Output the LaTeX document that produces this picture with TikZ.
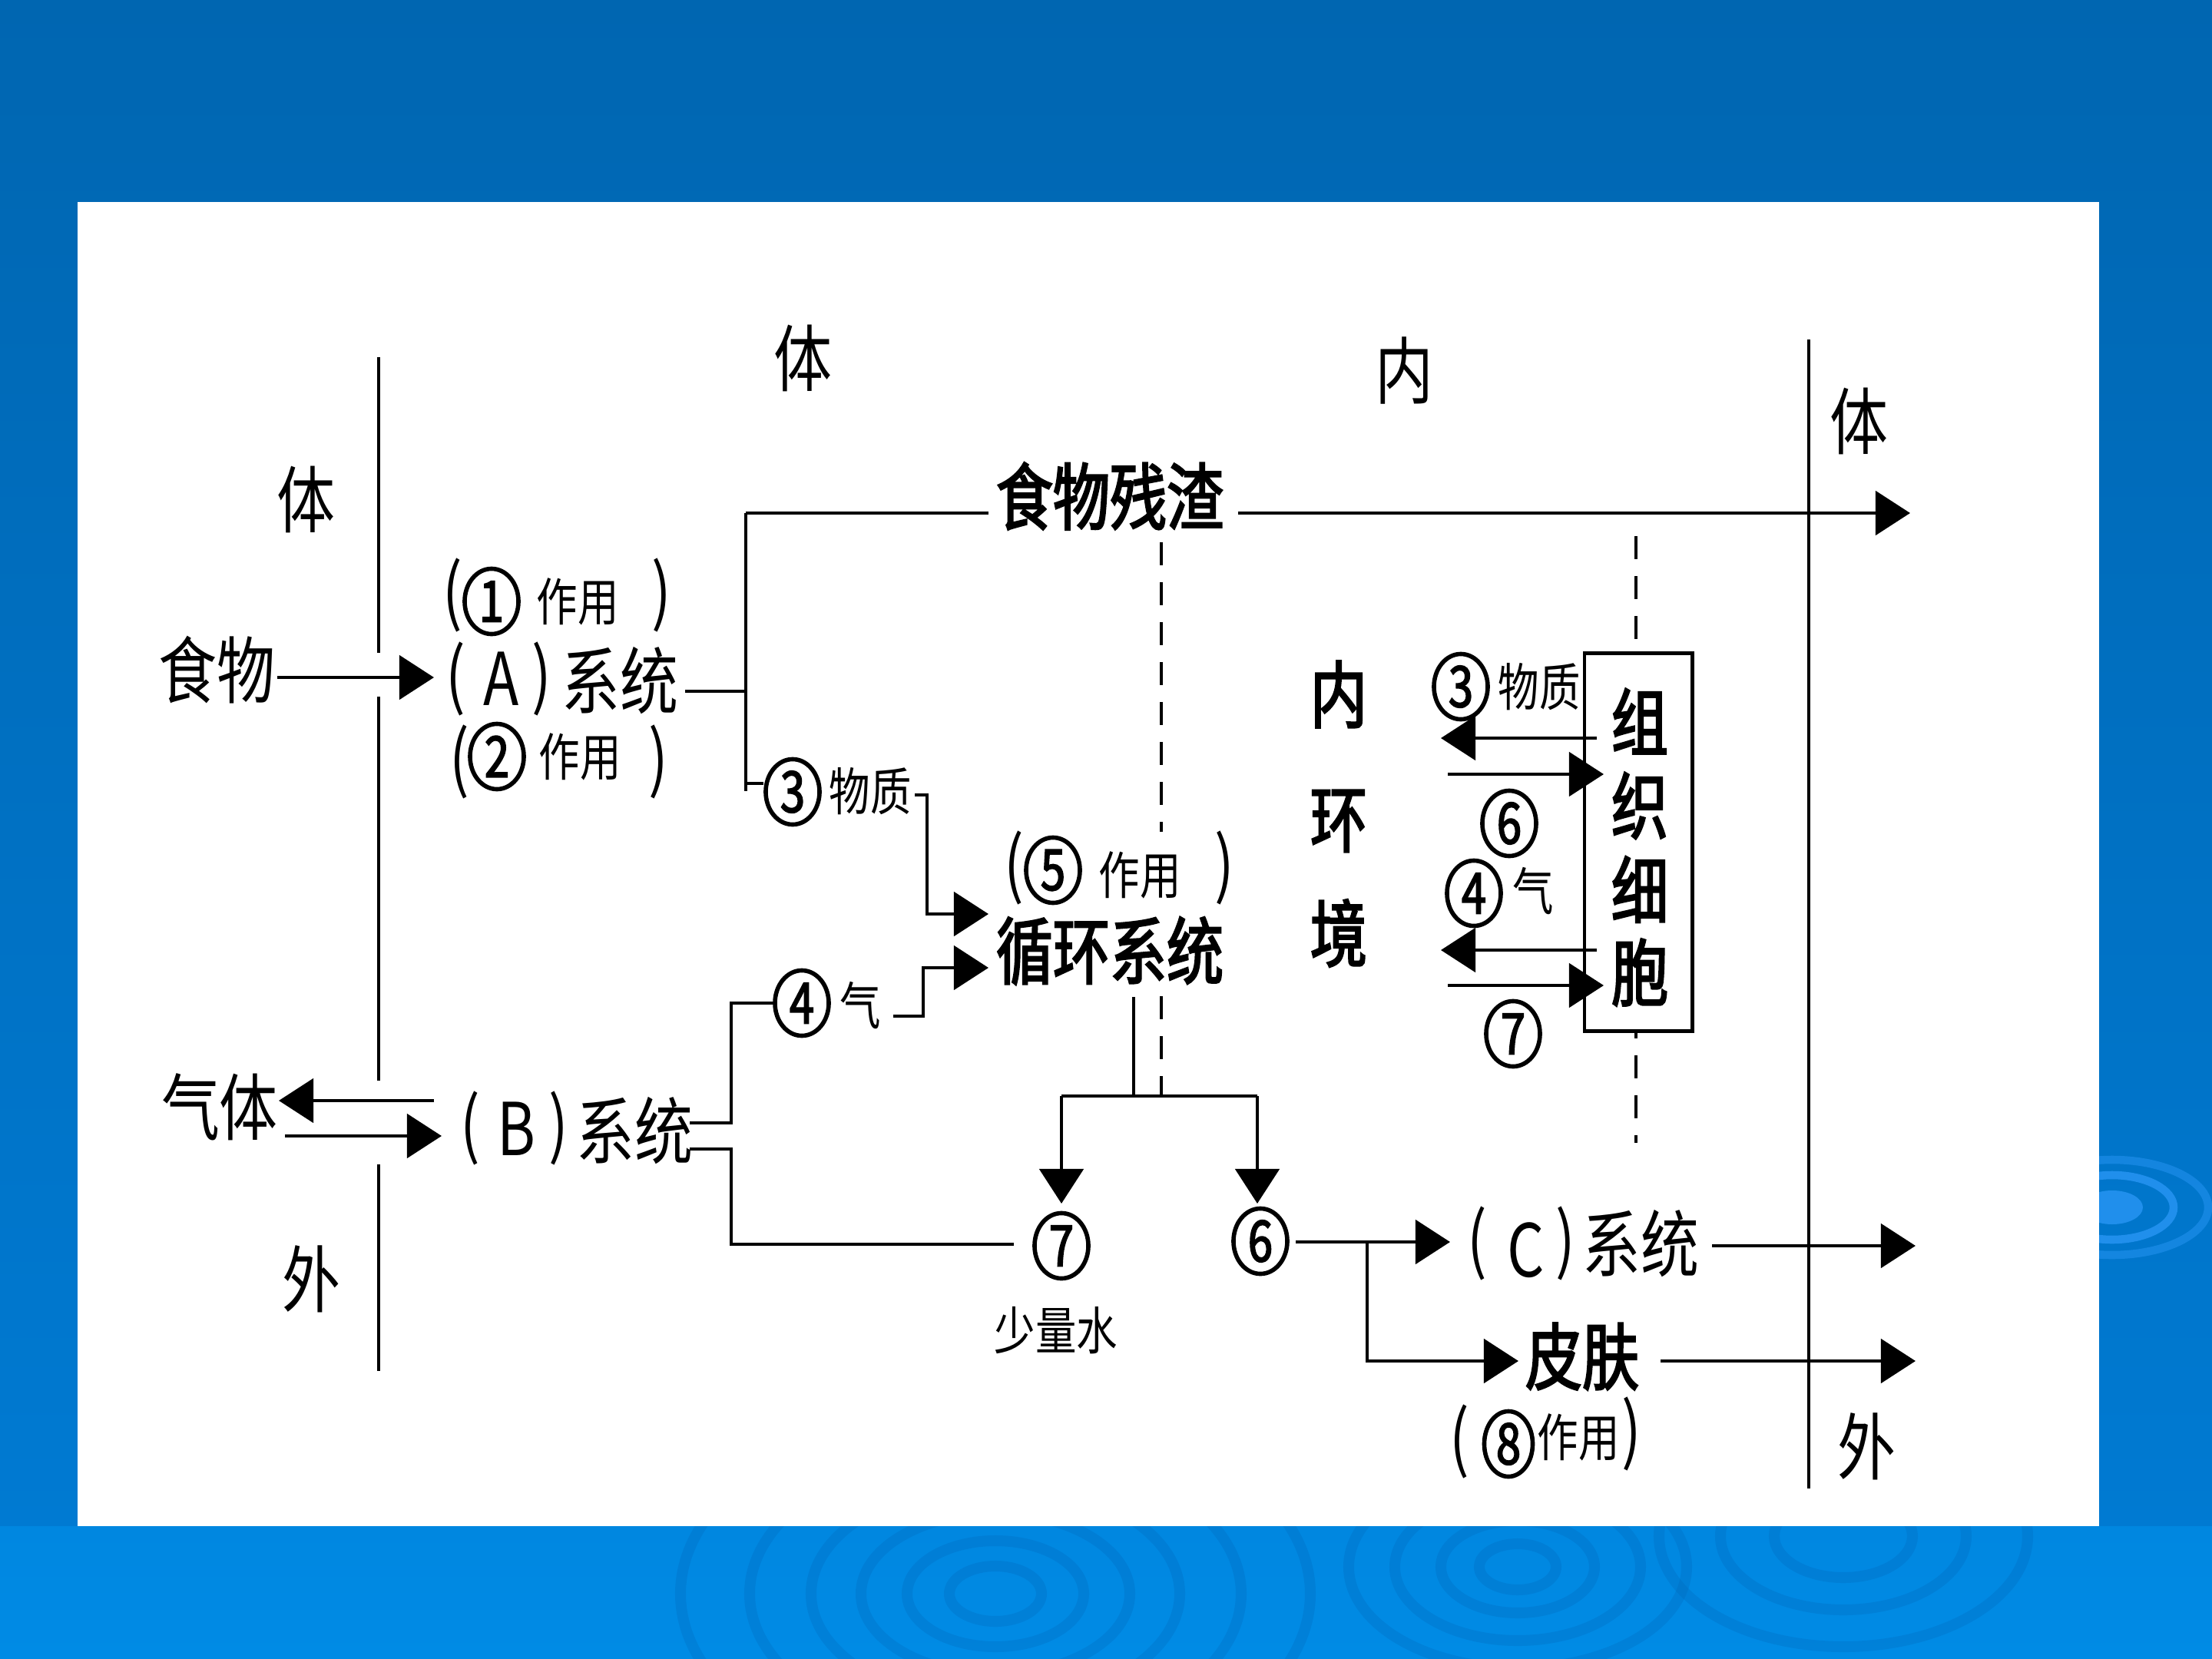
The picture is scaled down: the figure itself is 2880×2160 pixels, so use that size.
\documentclass[tikz,border=0pt]{standalone}
\usepackage{fontspec}
\newfontfamily\cjk[FakeStretch=0.8]{Noto Sans CJK SC}
\newfontfamily\cjkb[FakeStretch=0.78,FakeBold=2.5]{Noto Sans CJK SC}
\usetikzlibrary{arrows.meta,shapes.geometric}
\definecolor{bgtop}{RGB}{0,102,177}
\definecolor{bgmid}{RGB}{0,122,210}
\definecolor{bgband}{RGB}{0,135,224}
\definecolor{bgbot}{RGB}{0,139,229}
\definecolor{ripdark}{RGB}{0,100,182}
\definecolor{riplight}{RGB}{40,150,245}
\begin{document}
\begin{tikzpicture}[x=0.01cm,y=-0.01cm,
  ln/.style={line width=1.4pt},
  arr/.style={line width=1.4pt,-{Triangle[length=0.45cm,width=0.57cm]}},
  dsh/.style={line width=1.2pt,dash pattern=on 0.3cm off 0.22cm},
  tbig/.style={font=\cjk\fontsize{27}{30}\selectfont,inner sep=0pt},
  tbold/.style={font=\cjkb\fontsize{27}{30}\selectfont,inner sep=0pt},
  tsmall/.style={font=\cjk\fontsize{19}{22}\selectfont,inner sep=0pt},
  cnum/.style={draw,ellipse,line width=1.6pt,minimum width=0.7cm,minimum height=0.85cm,inner sep=0pt,font=\cjkb\fontsize{21}{21}\selectfont},
  rip/.style={draw=ripdark,line width=4pt,opacity=0.25},
  ripl/.style={draw=riplight,line width=3pt,opacity=0.8}]
\useasboundingbox (0,0) rectangle (2880,2160);
% background
\shade[top color=bgtop,bottom color=bgmid] (0,0) rectangle (2880,1990);
\shade[top color=bgband,bottom color=bgbot] (0,1987) rectangle (2880,2160);
\begin{scope}
\clip (0,1987) rectangle (2880,2160);
\foreach \r in {60,115,175,240,320,410}{\draw[rip] (1296,2075) ellipse [x radius=\r, y radius=0.6*\r];}
\foreach \r in {50,100,160,220}{\draw[rip] (1976,2040) ellipse [x radius=\r, y radius=0.6*\r];}
\foreach \r in {90,160,240}{\draw[rip] (2400,2000) ellipse [x radius=\r, y radius=0.6*\r];}
\end{scope}
\fill[riplight,opacity=0.8] (2750,1572) ellipse [x radius=40, y radius=22];
\draw[ripl] (2750,1572) ellipse [x radius=80, y radius=42];
\draw[ripl,opacity=0.5] (2750,1572) ellipse [x radius=125, y radius=62];
% white panel
\fill[white] (101,263) rectangle (2733,1987);

% dashed guides and cell box
\coordinate (da0) at (1512,706); \coordinate (da1) at (1512,1083);
\coordinate (da2) at (1512,1297); \coordinate (da3) at (1512,1425);
\coordinate (db0) at (2130,698); \coordinate (db1) at (2130,1488);
\draw[dsh] (da0) -- (da1);
\draw[dsh] (da2) -- (da3);
\draw[dsh] (db0) -- (db1);
\node[draw,fill=white,line width=1.4pt,minimum width=1.4cm,minimum height=4.91cm,inner sep=0pt] (cell) at (2133,1096.5) {};

% boundaries
\coordinate (lb0) at (493,465); \coordinate (lb1) at (493,850);
\coordinate (lb2) at (493,907); \coordinate (lb3) at (493,1407);
\coordinate (lb4) at (493,1516); \coordinate (lb5) at (493,1785);
\coordinate (rb0) at (2355,442); \coordinate (rb1) at (2355,1938);
\draw[ln] (lb0) -- (lb1);
\draw[ln] (lb2) -- (lb3);
\draw[ln] (lb4) -- (lb5);
\draw[ln] (rb0) -- (rb1);

% labels
\node[tbig] (ti1) at (1045,466) {体};
\node[tbig] (nei0) at (1828,483) {内};
\node[tbig] (ti3) at (2420,548) {体};
\node[tbig] (ti2) at (398,650) {体};
\node[tbig] (wai1) at (405,1665) {外};
\node[tbig] (wai2) at (2430,1883) {外};
\node[tbig] (food) at (282,872) {食物};
\node[tbig] (gas) at (286,1441) {气体};

\node[tbig] (p1l) at (589,775) {(};
\node[cnum] (c1) at (640,783) {1};
\node[tsmall] (zy1) at (752,783) {作用};
\node[tbig] (p1r) at (861,775) {)};
\node[tbig] (pAl) at (593,884) {(};
\node[tbig] (A) at (653,884) {A};
\node[tbig] (pAr) at (705,884) {)};
\node[tbig] (sysA) at (807,886) {系统};
\node[tbig] (p2l) at (598,992) {(};
\node[cnum] (c2) at (647,985) {2};
\node[tsmall] (zy2) at (755,985) {作用};
\node[tbig] (p2r) at (857,992) {)};

\node[tbold] (res) at (1445,646) {食物残渣};
\node[cnum] (c3a) at (1032,1031) {3};
\node[tsmall] (wz1) at (1133,1030) {物质};
\node[tbig] (p5l) at (1320,1130) {(};
\node[cnum] (c5) at (1371,1133) {5};
\node[tsmall] (zy5) at (1484,1139) {作用};
\node[tbig] (p5r) at (1594,1130) {)};
\node[tbold] (circ) at (1445,1238) {循环系统};
\node[cnum] (c4a) at (1044,1306) {4};
\node[tsmall] (qi1) at (1120,1309) {气};

\node[tbig] (pBl) at (612,1469) {(};
\node[tbig] (B) at (672,1470) {B};
\node[tbig] (pBr) at (727,1469) {)};
\node[tbig] (sysB) at (826,1472) {系统};

\node[cnum] (c7a) at (1382,1622) {7};
\node[cnum] (c6a) at (1641,1616) {6};
\node[tsmall] (water) at (1375,1732) {少量水};

\node[tbig] (pCl) at (1923,1619) {(};
\node[tbig] (C) at (1987,1628) {C};
\node[tbig] (pCr) at (2038,1619) {)};
\node[tbig] (sysC) at (2136,1619) {系统};
\node[tbold] (skin) at (2060,1766) {皮肤};
\node[tbig] (p8l) at (1900,1877) {(};
\node[cnum,minimum width=0.63cm] (c8) at (1964,1880) {8};
\node[tsmall] (zy8) at (2055,1871) {作用};
\node[tbig] (p8r) at (2124,1867) {)};

\node[tbold] (n1) at (1743,904) {内};
\node[tbold] (n2) at (1743,1069) {环};
\node[tbold] (n3) at (1743,1215) {境};
\node[tbold] (g1) at (2135,939) {组};
\node[tbold] (g2) at (2135,1049) {织};
\node[tbold] (g3) at (2135,1158) {细};
\node[tbold] (g4) at (2135,1266) {胞};
\node[cnum] (c3b) at (1902,894) {3};
\node[tsmall] (wz2) at (2004,894) {物质};
\node[cnum] (c6b) at (1965,1072) {6};
\node[cnum] (c4b) at (1919,1163) {4};
\node[tsmall] (qi2) at (1996,1160) {气};
\node[cnum] (c7b) at (1970,1346) {7};

% connectors
\coordinate (fa0) at (361,882); \coordinate (fa1) at (565,882);
\draw[arr] (fa0) -- (fa1);
\coordinate (ga0) at (565,1433); \coordinate (ga1) at (363,1433);
\draw[arr] (ga0) -- (ga1);
\coordinate (gb0) at (371,1479); \coordinate (gb1) at (575,1479);
\draw[arr] (gb0) -- (gb1);

\coordinate (ja0) at (892,900); \coordinate (ja1) at (971,900);
\coordinate (jt) at (971,668); \coordinate (jb) at (971,1030);
\coordinate (j3) at (971,1020);
\draw[ln] (ja0) -- (ja1);
\draw[ln] (jt) -- (jb);
\draw[ln] (j3) -- (j3 -| c3a.west);
\coordinate (rs0) at (1287,668); \coordinate (rs1) at (1612,668); \coordinate (rs2) at (2487,668);
\draw[ln] (jt) -- (rs0);
\draw[arr] (rs1) -- (rs2);

\coordinate (m0) at (1191,1035); \coordinate (m1) at (1207,1035);
\coordinate (m2) at (1207,1190); \coordinate (m3) at (1287,1190);
\draw[arr] (m0) -- (m1) -- (m2) -- (m3);

\coordinate (q2) at (952,1462); \coordinate (q3) at (898,1462);
\draw[ln] (c4a.west) -- (c4a.west -| q2) -- (q2) -- (q3);
\coordinate (w0) at (898,1496); \coordinate (w1) at (952,1496);
\coordinate (w2) at (952,1620); \coordinate (w3) at (1320,1620);
\draw[ln] (w0) -- (w1) -- (w2) -- (w3);
\coordinate (k0) at (1163,1323); \coordinate (k1) at (1202,1323);
\coordinate (k2) at (1202,1260); \coordinate (k3) at (1287,1260);
\draw[arr] (k0) -- (k1) -- (k2) -- (k3);

\coordinate (d0) at (1476,1298); \coordinate (d1) at (1476,1427);
\coordinate (dl) at (1382,1427); \coordinate (dr) at (1637,1427);
\coordinate (dl1) at (1382,1567); \coordinate (dr1) at (1637,1567);
\draw[ln] (d0) -- (d1);
\draw[ln] (dl) -- (dr);
\draw[arr] (dl) -- (dl1);
\draw[arr] (dr) -- (dr1);

\coordinate (s0) at (1687,1617); \coordinate (s1) at (1888,1617);
\coordinate (sb) at (1780,1617); \coordinate (sb1) at (1780,1772); \coordinate (sb2) at (1977,1772);
\draw[arr] (s0) -- (s1);
\draw[arr] (sb) -- (sb1) -- (sb2);
\coordinate (o0) at (2229,1622); \coordinate (o1) at (2494,1622);
\coordinate (o2) at (2162,1772); \coordinate (o3) at (2494,1772);
\draw[arr] (o0) -- (o1);
\draw[arr] (o2) -- (o3);

\coordinate (e0) at (2079,961); \coordinate (e1) at (1876,961);
\coordinate (e2) at (1885,1008); \coordinate (e3) at (2088,1008);
\coordinate (e4) at (2079,1237); \coordinate (e5) at (1876,1237);
\coordinate (e6) at (1885,1283); \coordinate (e7) at (2088,1283);
\draw[arr] (e0) -- (e1);
\draw[arr] (e2) -- (e3);
\draw[arr] (e4) -- (e5);
\draw[arr] (e6) -- (e7);
\end{tikzpicture}
\end{document}
